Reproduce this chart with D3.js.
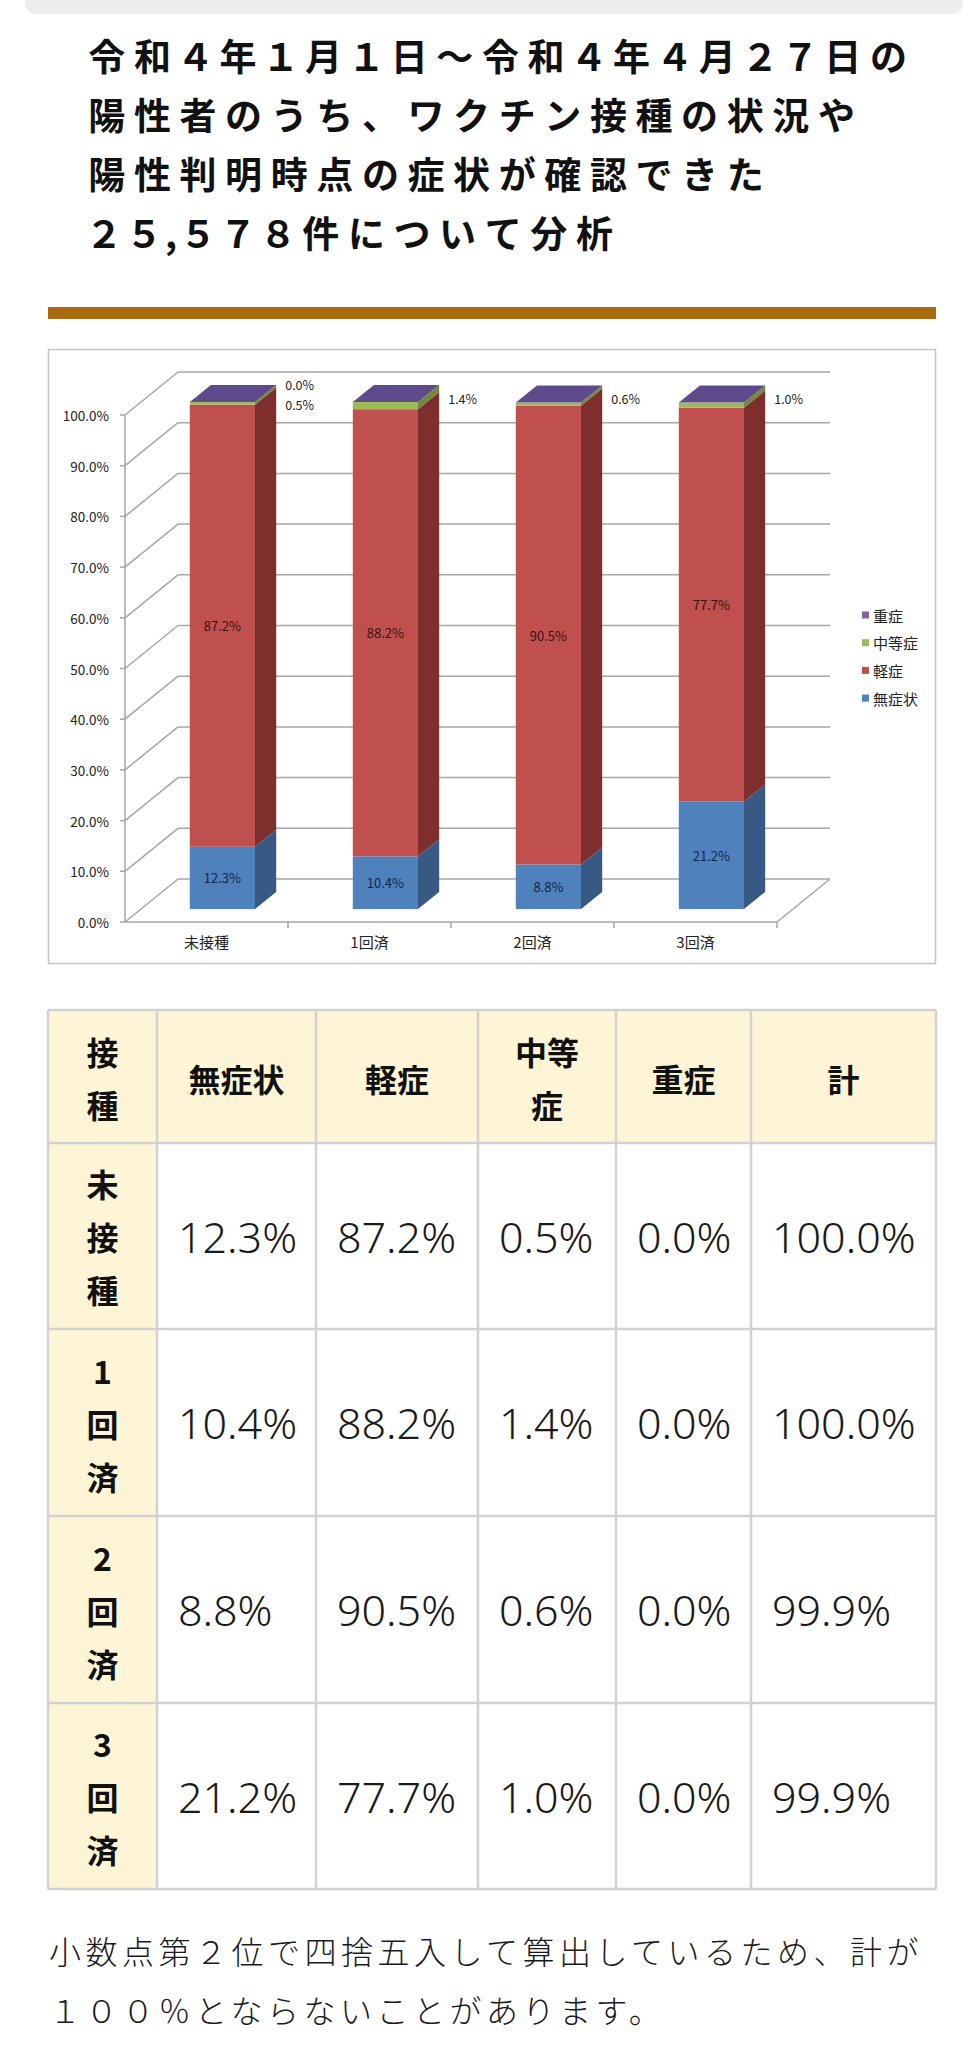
<!DOCTYPE html>
<html><head><meta charset="utf-8">
<script src="https://cdn.jsdelivr.net/npm/d3@7"></script>
<style>body{margin:0;background:#fff;}svg{display:block;}</style>
</head><body>
<script>
// ---------- data ----------
const categories = ["未接種", "1回済", "2回済", "3回済"];
const seriesNames = ["無症状", "軽症", "中等症", "重症"];
const asymptomatic = [12.3, 10.4, 8.8, 21.2];
const mild = [87.2, 88.2, 90.5, 77.7];
const moderate = [0.5, 1.4, 0.6, 1.0];
const severe = [0.0, 0.0, 0.0, 0.0];
const totals = [100.0, 100.0, 99.9, 99.9];
const yTickValues = [0, 10, 20, 30, 40, 50, 60, 70, 80, 90, 100];
const severeLabelShown = [true, false, false, false];
const titleLines = ["令和４年１月１日～令和４年４月２７日の", "陽性者のうち、ワクチン接種の状況や", "陽性判明時点の症状が確認できた", "２５,５７８件について分析"];
const tableHeader = [["接", "種"], ["無症状"], ["軽症"], ["中等", "症"], ["重症"], ["計"]];
const noteLines = ["小数点第２位で四捨五入して算出しているため、計が", "１００％とならないことがあります。"];

// ---------- styles ----------
const frontCol = ["#4f81bd", "#c0504d", "#9bbb59", "#8064a2"];
const sideCol = ["#375983", "#7e2e2c", "#71893f", "#5c4776"];
const topCol = "#5f4b8b";
const inLabelCol = ["#0f2748", "#3a1010"];
const jp = "'Noto Sans CJK JP', 'Noto Sans', sans-serif";

const svg = d3.select("body").append("svg").attr("width", 978).attr("height", 2048);

// top grey tab
svg.append("rect").attr("x", 25).attr("y", -12).attr("width", 938).attr("height", 26).attr("rx", 10).attr("fill", "#eeeeee");

// title: each glyph centred in its own slot (digits narrower slots than kanji/kana)
const titleG = svg.append("g");
titleLines.forEach((line, i) => {
  const t = titleG.append("text").attr("y", 55 + i * 59)
    .attr("dominant-baseline", "central").attr("text-anchor", "middle")
    .attr("font-family", jp).attr("font-weight", 700).attr("font-size", 37).attr("fill", "#111");
  let cx = 84;
  Array.from(line).forEach(ch => {
    const slot = /[０-９]/.test(ch) ? 40 : (ch === "," ? 14 : 45.6);
    t.append("tspan").attr("x", cx + slot / 2).text(ch);
    cx += slot;
  });
});

// brown rule
svg.append("rect").attr("x", 48).attr("y", 307).attr("width", 888).attr("height", 12).attr("fill", "#a8690f");

// ---------- chart ----------
svg.append("rect").attr("x", 48.5).attr("y", 349.5).attr("width", 887).attr("height", 614)
  .attr("fill", "#fff").attr("stroke", "#c4c4c4").attr("stroke-width", 1.5);

const x = d3.scaleBand().domain(categories).range([125, 777]);
const y = d3.scaleLinear().domain([0, 100]).range([922, 415]);
const DX = 53, DY = 43;
const px = (xx, z) => xx + z * DX;
const py = (v, z) => y(v) - z * DY;
const gridCol = "#a6a6a6";
const g = svg.append("g");
const x0 = x.range()[0], x1 = x.range()[1];

g.selectAll("line.back").data(yTickValues).join("line")
  .attr("x1", px(x0, 1)).attr("x2", px(x1, 1))
  .attr("y1", d => py(d, 1)).attr("y2", d => py(d, 1))
  .attr("stroke", gridCol).attr("stroke-width", 1.5);
g.selectAll("line.side").data(yTickValues).join("line")
  .attr("x1", x0).attr("x2", px(x0, 1))
  .attr("y1", d => y(d)).attr("y2", d => py(d, 1))
  .attr("stroke", gridCol).attr("stroke-width", 1.5);
g.append("line").attr("x1", x0).attr("x2", x1).attr("y1", y(0)).attr("y2", y(0)).attr("stroke", gridCol).attr("stroke-width", 1.5);
g.append("line").attr("x1", x1).attr("x2", px(x1, 1)).attr("y1", y(0)).attr("y2", py(0, 1)).attr("stroke", gridCol).attr("stroke-width", 1.5);
g.append("line").attr("x1", x0).attr("x2", x0).attr("y1", y(0)).attr("y2", y(100)).attr("stroke", gridCol).attr("stroke-width", 1.5);
g.selectAll("line.yt").data(yTickValues).join("line")
  .attr("x1", x0 - 5).attr("x2", x0).attr("y1", d => y(d)).attr("y2", d => y(d))
  .attr("stroke", gridCol).attr("stroke-width", 1.5);
g.selectAll("text.yl").data(yTickValues).join("text")
  .attr("x", x0 - 16).attr("y", d => y(d)).attr("text-anchor", "end").attr("dominant-baseline", "central")
  .attr("font-family", jp).attr("font-size", 13.5).attr("fill", "#222")
  .text(d => d3.format(".1f")(d) + "%");
g.selectAll("line.xt").data(categories).join("line")
  .attr("x1", d => x(d) + x.bandwidth()).attr("x2", d => x(d) + x.bandwidth())
  .attr("y1", y(0)).attr("y2", y(0) + 6).attr("stroke", gridCol).attr("stroke-width", 1.5);
g.selectAll("text.xl").data(categories).join("text")
  .attr("x", d => x(d) + x.bandwidth() / 2).attr("y", y(0) + 19)
  .attr("text-anchor", "middle").attr("dominant-baseline", "central")
  .attr("font-family", jp).attr("font-size", 15).attr("fill", "#222").text(d => d);

// stacked 3D bars
const rows = categories.map((c, i) => ({cat: c, a: asymptomatic[i], m: mild[i], md: moderate[i], s: severe[i]}));
const stack = d3.stack().keys(["a", "m", "md", "s"])(rows);
const z0 = 0.3, z1 = 0.7;
const pts = p => p.map(q => q.join(",")).join(" ");
const barG = svg.append("g");
categories.forEach((c, i) => {
  const xl = x(c) + x.bandwidth() * 0.3, xr = x(c) + x.bandwidth() * 0.7;
  stack.forEach((layer, k) => {
    const v0 = layer[i][0], v1 = layer[i][1];
    barG.append("rect").attr("x", px(xl, z0)).attr("y", py(v1, z0))
      .attr("width", xr - xl).attr("height", Math.max(0, py(v0, z0) - py(v1, z0))).attr("fill", frontCol[k]);
    barG.append("polygon").attr("points", pts([[px(xr, z0), py(v0, z0)], [px(xr, z1), py(v0, z1)], [px(xr, z1), py(v1, z1)], [px(xr, z0), py(v1, z0)]]))
      .attr("fill", sideCol[k]);
  });
  const vt = stack[stack.length - 1][i][1];
  barG.append("polygon").attr("points", pts([[px(xl, z0), py(vt, z0)], [px(xr, z0), py(vt, z0)], [px(xr, z1), py(vt, z1)], [px(xl, z1), py(vt, z1)]]))
    .attr("fill", topCol);
  [0, 1].forEach(k => {
    const v0 = stack[k][i][0], v1 = stack[k][i][1];
    barG.append("text").attr("x", px((xl + xr) / 2, z0)).attr("y", py((v0 + v1) / 2, z0))
      .attr("text-anchor", "middle").attr("dominant-baseline", "central")
      .attr("font-family", jp).attr("font-size", 13).attr("fill", inLabelCol[k])
      .text(d3.format(".1f")(v1 - v0) + "%");
  });
  const lx = px(xr, z1) + 9;
  const topY = py(vt, z0);
  const my = topY + (severeLabelShown[i] ? 2 : -4);
  barG.append("text").attr("x", lx).attr("y", my).attr("dominant-baseline", "central")
    .attr("font-family", jp).attr("font-size", 12.5).attr("fill", "#222")
    .text(d3.format(".1f")(moderate[i]) + "%");
  if (severeLabelShown[i]) {
    barG.append("text").attr("x", lx).attr("y", my - 20).attr("dominant-baseline", "central")
      .attr("font-family", jp).attr("font-size", 12.5).attr("fill", "#222")
      .text(d3.format(".1f")(severe[i]) + "%");
  }
});

// legend
const legendOrder = [3, 2, 1, 0];
const lg = svg.append("g");
legendOrder.forEach((k, j) => {
  const ly = 615 + j * 27.7;
  lg.append("rect").attr("x", 862).attr("y", ly - 3.5).attr("width", 7).attr("height", 7).attr("fill", frontCol[k]);
  lg.append("text").attr("x", 873).attr("y", ly).attr("dominant-baseline", "central")
    .attr("font-family", jp).attr("font-size", 15).attr("fill", "#222").text(seriesNames[k]);
});

// ---------- table ----------
const colX = [48, 157, 316, 478, 616, 751, 936];
const rowY = [1010, 1143, 1329, 1516, 1703, 1889];
const cream = "#fdf5d6", borderCol = "#d2d2d2";
const tg = svg.append("g");
tg.append("rect").attr("x", colX[0]).attr("y", rowY[0]).attr("width", colX[6] - colX[0]).attr("height", rowY[1] - rowY[0]).attr("fill", cream);
tg.append("rect").attr("x", colX[0]).attr("y", rowY[1]).attr("width", colX[1] - colX[0]).attr("height", rowY[5] - rowY[1]).attr("fill", cream);
colX.forEach(cx => tg.append("line").attr("x1", cx).attr("x2", cx).attr("y1", rowY[0]).attr("y2", rowY[5]).attr("stroke", borderCol).attr("stroke-width", 2.5));
rowY.forEach(ry => tg.append("line").attr("x1", colX[0]).attr("x2", colX[6]).attr("y1", ry).attr("y2", ry).attr("stroke", borderCol).attr("stroke-width", 2.5));
const lineGap = 53;
tableHeader.forEach((lines, c) => {
  const cx = (colX[c] + colX[c + 1]) / 2, cy = (rowY[0] + rowY[1]) / 2 + 1;
  lines.forEach((t, li) => {
    tg.append("text").attr("x", cx).attr("y", cy + (li - (lines.length - 1) / 2) * lineGap)
      .attr("text-anchor", "middle").attr("dominant-baseline", "central")
      .attr("font-family", jp).attr("font-weight", 700).attr("font-size", 32).attr("fill", "#111").text(t);
  });
});
const tableCols = [asymptomatic, mild, moderate, severe, totals];
categories.forEach((cat, r) => {
  const cy = (rowY[r + 1] + rowY[r + 2]) / 2;
  const chars = Array.from(cat);
  chars.forEach((ch, li) => {
    tg.append("text").attr("x", (colX[0] + colX[1]) / 2).attr("y", cy + (li - (chars.length - 1) / 2) * lineGap)
      .attr("text-anchor", "middle").attr("dominant-baseline", "central")
      .attr("font-family", jp).attr("font-weight", 700).attr("font-size", 32).attr("fill", "#111").text(ch);
  });
  tableCols.forEach((arr, c) => {
    tg.append("text").attr("x", colX[c + 1] + 21).attr("y", cy)
      .attr("dominant-baseline", "central")
      .attr("font-family", "'Noto Sans', sans-serif").attr("font-weight", 300).attr("font-size", 43).attr("fill", "#1a1a1a")
      .text(d3.format(".1f")(arr[r]) + "%");
  });
});

// footnote
svg.append("g").selectAll("text").data(noteLines).join("text")
  .attr("x", 49).attr("y", (d, i) => 1950 + i * 59).attr("dominant-baseline", "central")
  .attr("font-family", jp).attr("font-weight", 300).attr("font-size", 32).attr("letter-spacing", 4.5)
  .attr("fill", "#1a1a1a").text(d => d);
</script>
</body></html>
